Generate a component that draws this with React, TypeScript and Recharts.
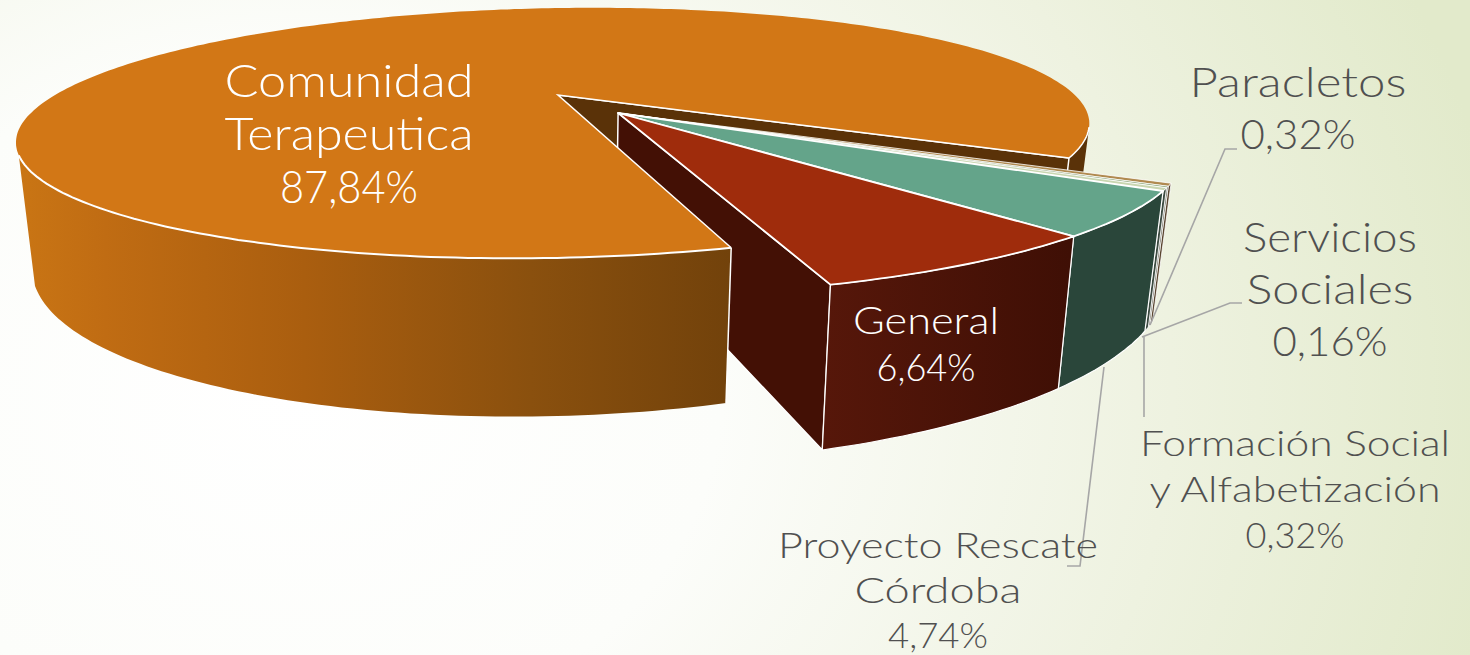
import React from 'react';
import { PieChart, Pie } from 'recharts';

const categories = ['Paracletos', 'Servicios Sociales', 'Formación Social y Alfabetización', 'Proyecto Rescate Córdoba', 'General', 'Comunidad Terapeutica'];
const shares = [0.32, 0.16, 0.32, 4.74, 6.64, 87.84];
const topColors = ['#b08a50', '#86a070', '#c9d6b0', '#64a48a', '#9f2c0c', '#d27716'];
const sideColors = ['#5a4630', '#4a4a38', '#3c4a40', '#2a463a', '#4a1206', '#a05c10'];

// label text split in lines, same order as categories
const labelLines = [
  ['Paracletos'],
  ['Servicios', 'Sociales'],
  ['Formación Social', 'y Alfabetización'],
  ['Proyecto Rescate', 'Córdoba'],
  ['General'],
  ['Comunidad', 'Terapeutica'],
];

const tableData = categories.map((name, i) => ({ name, share: shares[i], top: topColors[i], side: sideColors[i], idx: i }));

// where the labels sit on the slide, widths are per line with the percent last
const labelLayout = [
  { x: 1298, y: 97, size: 41, pitch: 52, fill: '#505050', widths: [217, 115] },
  { x: 1330, y: 252, size: 41, pitch: 52, fill: '#505050', widths: [174, 167, 115] },
  { x: 1295, y: 456, size: 36, pitch: 46, fill: '#505050', widths: [310, 291, 99] },
  { x: 938, y: 558, size: 36, pitch: 45, fill: '#505050', widths: [320, 167, 100] },
  { x: 926, y: 334, size: 37, pitch: 47, fill: '#fff', widths: [146, 99] },
  { x: 349, y: 97, size: 46, pitch: 53, fill: '#fff', widths: [249, 249, 138] },
];

const leaderLines = [
  [[1237, 149], [1225, 149], [1150, 325]],
  [[1242, 303], [1230, 303], [1142, 337]],
  [[1144, 337], [1144, 417]],
  [[1104, 367], [1080, 566], [1067, 566]],
];

// perspective of the tilted disc
const TILT_A = 84.57;
const TILT_C = -0.304;
const SKEW_X = 16;
const SKEW_Y = -0.01;
const EXPLODE = [0.117, 0.156];
const FLOOR_SHRINK = 0.97;
const FLOOR_SCALE = 1.27;
const FLOOR_SHIFT = 88.5;
const RIM_END_ANGLE = -155;
const RIGHT_RIM_SPAN = 13;

type Pt = [number, number];

const project = (cx: number, cy: number, R: number, u: number, v: number): Pt => {
  const d = 1 + TILT_C * v;
  const x = cx + (R * u - SKEW_X * v) / d;
  return [x, (TILT_A * v + cy) / d + SKEW_Y * (x - cx)];
};

const toFloor = (cx: number, p: Pt): Pt => [cx + (p[0] - cx) * FLOOR_SHRINK, p[1] * FLOOR_SCALE + FLOOR_SHIFT];

const arcPoints = (cx: number, cy: number, R: number, a0: number, a1: number, off: number[]): Pt[] => {
  const n = Math.max(2, Math.ceil(Math.abs(a1 - a0)));
  const pts: Pt[] = [];
  for (let i = 0; i <= n; i++) {
    const a = ((a0 + ((a1 - a0) * i) / n) * Math.PI) / 180;
    pts.push(project(cx, cy, R, Math.cos(a) + off[0], -Math.sin(a) + off[1]));
  }
  return pts;
};

const toPath = (pts: Pt[]) => 'M' + pts.map((p) => `${p[0].toFixed(1)},${p[1].toFixed(1)}`).join('L') + 'Z';
const toPoints = (pts: Pt[]) => pts.map((p) => `${p[0].toFixed(1)},${p[1].toFixed(1)}`).join(' ');

// back walls of the big slice, they must stay under the pulled out slices
const BackShape = (props: any) => {
  const { cx, cy, outerRadius: R, endAngle, payload } = props;
  if (payload.idx !== 5) return <g />;
  const apex = project(cx, cy, R, 0, 0);
  const rim = arcPoints(cx, cy, R, endAngle, endAngle + RIGHT_RIM_SPAN, [0, 0]);
  const wall = [apex, rim[0], toFloor(cx, rim[0]), toFloor(cx, apex)];
  const side = [...rim, ...rim.map((p) => toFloor(cx, p)).reverse()];
  return (
    <g>
      <path d={toPath(side)} fill="#5a3208" />
      <path d={toPath(wall)} fill="#5a3208" stroke="#fff" strokeWidth={1.5} strokeLinejoin="round" />
    </g>
  );
};

const SliceShape = (props: any) => {
  const { cx, cy, outerRadius: R, startAngle, endAngle, payload } = props;
  const main = payload.idx === 5;
  const off = main ? [0, 0] : EXPLODE;
  const apex = project(cx, cy, R, off[0], off[1]);
  const arc = arcPoints(cx, cy, R, startAngle, endAngle, off);
  const thin = payload.share < 1;

  if (main) {
    // only the part of the rim that faces the viewer, from the cut round to the left tip
    const front = arcPoints(cx, cy, R, startAngle, RIM_END_ANGLE, off);
    const rightEdge = arcPoints(cx, cy, R, endAngle, endAngle + RIGHT_RIM_SPAN, off);
    const side = [...front, ...front.map((p) => toFloor(cx, p)).reverse()];
    return (
      <g>
        <defs>
          <linearGradient id="mainRim" gradientUnits="userSpaceOnUse" x1={20} y1={0} x2={730} y2={0}>
            <stop offset="0" stopColor="#c97514" />
            <stop offset="0.12" stopColor="#c06c13" />
            <stop offset="0.4" stopColor="#aa5e0f" />
            <stop offset="0.72" stopColor="#8a500e" />
            <stop offset="1" stopColor="#72420b" />
          </linearGradient>
        </defs>
        <path d={toPath(side)} fill="url(#mainRim)" />
        <path d={toPath([apex, ...arc])} fill={payload.top} />
        <polyline points={toPoints(front)} fill="none" stroke="#fff" strokeWidth={2} />
        <polyline points={toPoints(rightEdge)} fill="none" stroke="#fff" strokeWidth={1.5} />
        <polyline points={toPoints([front[0], toFloor(cx, front[0])])} fill="none" stroke="#fff" strokeWidth={1.5} />
        <polyline points={toPoints([arc[arc.length - 1], apex, front[0]])} fill="none" stroke="#fff" strokeWidth={1.5} />
      </g>
    );
  }

  const side = [...arc, ...arc.map((p) => toFloor(cx, p)).reverse()];
  const isGeneral = payload.idx === 4;
  const last = arc[arc.length - 1];
  const sw = thin ? 0.8 : 1.8;
  return (
    <g>
      {isGeneral && (
        <defs>
          <linearGradient id="generalRim" gradientUnits="userSpaceOnUse" x1={825} y1={0} x2={1070} y2={0}>
            <stop offset="0" stopColor="#56170a" />
            <stop offset="1" stopColor="#3f0f05" />
          </linearGradient>
        </defs>
      )}
      {isGeneral && (
        <path d={toPath([apex, last, toFloor(cx, last), toFloor(cx, apex)])} fill="#431005" stroke="#fff" strokeWidth={1.5} strokeLinejoin="round" />
      )}
      <path d={toPath(side)} fill={isGeneral ? 'url(#generalRim)' : payload.side} stroke="#fff" strokeWidth={thin ? 0.8 : 1.2} strokeLinejoin="round" />
      <path d={toPath([apex, ...arc])} fill={payload.top} stroke="#fff" strokeWidth={sw} strokeLinejoin="round" />
    </g>
  );
};

const renderLabel = (props: any) => {
  const i = props.payload ? props.payload.idx : props.idx;
  const l = labelLayout[i];
  const pct = shares[i].toFixed(2).replace('.', ',') + '%';
  return (
    <g key={i}>
      {[...labelLines[i], pct].map((t, k) => (
        <text
          key={k}
          x={l.x}
          y={l.y + k * l.pitch}
          textAnchor="middle"
          fill={l.fill}
          fontFamily="Lato, sans-serif"
          fontWeight={300}
          fontSize={l.size}
          textLength={l.widths[k]}
          lengthAdjust="spacingAndGlyphs"
        >
          {t}
        </text>
      ))}
    </g>
  );
};

const renderLeader = (props: any) => {
  const i = props.payload ? props.payload.idx : props.idx;
  const pts = leaderLines[i];
  if (!pts) return <g key={i} />;
  return <polyline key={i} points={pts.map((p) => p.join(',')).join(' ')} fill="none" stroke="#a6a6a6" strokeWidth={1.6} />;
};

export default function App() {
  return (
    <div
      style={{
        position: 'absolute',
        left: 0,
        top: 0,
        width: 1470,
        height: 655,
        overflow: 'hidden',
        background: 'radial-gradient(ellipse 1220px 1000px at 20% 60%, #ffffff 0%, #fcfdfa 35%, #eef2e0 72%, #e2eacb 100%)',
      }}
    >
      <PieChart width={1470} height={655} margin={{ top: 0, right: 0, bottom: 0, left: 0 }}>
        <Pie
          data={tableData}
          dataKey="share"
          nameKey="name"
          cx={558}
          cy={95}
          outerRadius={511}
          startAngle={-30.5}
          endAngle={-390.5}
          stroke="none"
          shape={BackShape}
          isAnimationActive={false}
        />
        <Pie
          data={tableData}
          dataKey="share"
          nameKey="name"
          cx={558}
          cy={95}
          outerRadius={511}
          startAngle={-30.5}
          endAngle={-390.5}
          stroke="none"
          shape={SliceShape}
          label={renderLabel}
          labelLine={renderLeader}
          isAnimationActive={false}
        />
      </PieChart>
    </div>
  );
}
